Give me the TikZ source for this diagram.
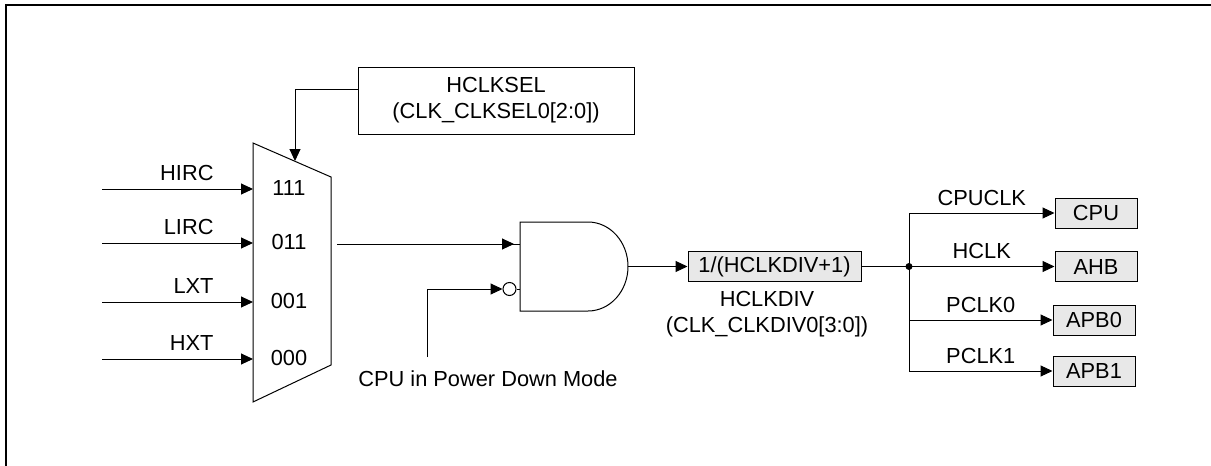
\documentclass[tikz,border=0pt]{standalone}
\usepackage{fontspec}
\setmainfont{Liberation Sans}
\usetikzlibrary{arrows.meta}
\tikzset{
  blk/.style={draw, fill=black!9, minimum height=30pt, inner sep=2pt},
  lbl/.style={inner sep=2pt},
}
\begin{document}
\begin{tikzpicture}[x=1pt,y=-1pt,>={Triangle[length=12pt,width=11pt]},line width=1pt,
  font=\fontsize{21.8}{26}\selectfont]
\useasboundingbox (0,0) rectangle (1211,466);
\draw[line width=2pt](5.5,480)--(5.5,5)--(1220,5);
% multiplexer
\draw(253,143)--(331,177)--(331,365)--(253,402)--cycle;
\coordinate (sel) at (295,161);
\coordinate (muxout) at (337,244);
\foreach \y/\src/\code [count=\i] in {189/HIRC/111,243/LIRC/011,302/LXT/001,359/HXT/000}{
  \coordinate (src\i) at (102,\y);
  \coordinate (in\i) at (253,\y);
  \node[lbl] (code\i) at (289,\y-1) {\code};
  \draw[->](src\i)--node[lbl,pos=.755,above left,yshift=6pt]{\src}(in\i);
}
\node[draw,minimum width=276pt,minimum height=67pt,align=center] (hclksel) at (496,100.5) {HCLKSEL\\(CLK\_CLKSEL0[2:0])};
\draw[->]([yshift=11.5pt]hclksel.west)-|(sel);
% and gate
\draw(520,222)--(588,222)arc[start angle=90,end angle=-90,x radius=40pt,y radius=44.5pt]--(520,311)--cycle;
\coordinate (andin1) at (520,244);
\coordinate (andin2) at (520,289);
\coordinate (andout) at (628,266.5);
\draw(muxout)--(andin1);
\draw[->,shorten >=6pt](muxout)--(andin1);
\node[draw,circle,inner sep=0,minimum size=13pt] (bub) at (509.5,289) {};
\draw(bub)--(andin2);
\coordinate (pd) at (427,357);
\draw[->](pd)|-(bub);
\node (pdlbl) at (488,379) {CPU in Power Down Mode};
% divider
\node[blk,minimum width=173pt] (div) at (774.5,266.5) {1/(HCLKDIV+1)};
\draw[->](andout)--(div.west);
\node[align=center] (divlbl) at (767,314) {HCLKDIV\\(CLK\_CLKDIV0[3:0])};
\coordinate (jn) at (909,266.5);
\draw(div.east)--(jn);
\fill(jn)circle(3.5pt);
% clock outputs
\node[blk,minimum width=82pt] (cpu) at (1096,213) {CPU};
\node[blk,minimum width=82pt] (ahb) at (1096,266.5) {AHB};
\node[blk,minimum width=82pt] (apb0) at (1094,320) {APB0};
\node[blk,minimum width=82pt] (apb1) at (1094,371) {APB1};
\coordinate (br1) at (909,213);
\coordinate (br4) at (909,371);
\draw(br1)--(br4);
\foreach \n/\t [count=\i] in {cpu/CPUCLK,ahb/HCLK,apb0/PCLK0,apb1/PCLK1}
  \draw[->](\n.west-|jn)--node[lbl,above,yshift=5pt]{\t}(\n.west);
\end{tikzpicture}
\end{document}
